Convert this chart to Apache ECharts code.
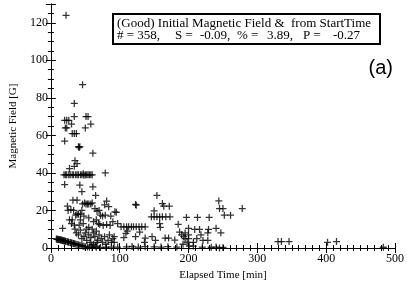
<!DOCTYPE html>
<html><head><meta charset="utf-8">
<script src="https://cdn.jsdelivr.net/npm/echarts@6/dist/echarts.min.js"></script>
<style>html,body{margin:0;padding:0;background:#fff}#c{width:407px;height:286px}</style>
</head><body><div id="c"></div>
<script>
// Elapsed time [min]
const elapsedTime = [
22,46,34,34,51,54,20,23,26,21,23,30,50,58,31,34,37,
20,40,41,42,61,38,35,34,27,79,
19,21,23,26,28,31,33,36,38,40,43,45,47,48,50,52,54,56,58,60,
20,42,61,45,65,32,38,46,49,51,53,55,58,60,81,78,24,29,64,67,36,38,40,43,72,75,79,31,43,93,34,41,17,71,76,81,86,43,55,58,
47,50,52,60,62,64,66,68,70,73,75,78,80,83,85,88,90,57,59,62,65,67,52,48,45,40,37,35,30,27,25,33,45,48,55,62,66,69,55,70,84,87,90,
8,9,10,11,12,13,14,15,16,17,18,19,20,21,22,24,25,26,28,29,30,32,33,34,36,38,40,42,44,46,48,50,53,56,60,66,72,80,88,
95,97,102,106,110,113,117,120,124,128,132,137,123,124,154,162,164,172,150,146,150,154,158,162,167,173,158,159,185,187,190,193,200,109,111,106,92,92,123,129,137,136,147,152,166,171,180,97,110,118,127,137,150,160,170,183,195,198,200,
244,245,250,278,252,261,197,213,230,209,216,229,240,247,228,192,195,200,207,212,218,221,228,201,207,233,245,250,240,220,
330,335,346,402,415,483
];
// Magnetic field [G]
const magneticField = [
124,87,77,70,70,70,68,68,68,64,64,66,64,66,61,61,61,
57,54,53.5,54,50.5,45,46.5,43.5,42.3,40,
39,39,39,39,39,39,39,39,39,39,39,39,39.5,38.8,39,39,39,39,39,39,
33.8,33.5,32.6,30,28,25.5,25.5,23.5,24,23.5,23.5,23.5,23.5,24,25,23,22.3,20.5,21,19.6,17.5,18,18,18,17.5,17,17.5,15,15,19.3,12.2,12.2,10.5,12.5,12,12.5,12,9.5,7,5.5,
13,8,10,10,8,6,9,4,7,5,3,6,2,4,7,3,5,3,1.5,2,1,3,4,6,5,7,8,10,13,15,20,20,20,17,16,14,15,13,11,20,22,17,14,
4.8,4.6,4.7,4.5,4.4,4.5,4.3,4.2,4.1,4.0,3.9,3.8,3.7,3.6,3.5,3.3,3.2,3.1,2.9,2.8,2.7,2.5,2.4,2.3,2.1,1.9,1.7,1.5,1.3,1.1,0.9,0.7,0.5,0.4,0.3,0.4,0.3,0.4,0.5,
19,13,11.3,11.3,11.3,11.3,11.3,11.3,11.3,11.3,11.3,11.3,23.2,22.8,28,23.7,22.3,22.3,19.8,16.6,16.6,16.6,16.6,16.6,16.6,16.6,13,11,12.6,8.5,7,6,10.5,7.8,9,5.5,3,6,6,8.5,5.3,3,6,4,5.3,5.3,4.2,0.5,0.6,0.8,0.5,0.7,0.6,0.5,0.7,0.5,8,3,5,
25.1,21,21,21,17.5,17.5,16.3,16.3,16.3,9.9,9.9,9.9,10.5,8.1,8.1,2,5,7,3,5,7,4,4,1,1,0.4,0,0.3,0.5,0.5,
3.4,3.4,3.4,3,3.4,0.4
];
const xTicks = [0,100,200,300,400,500];
const yTicks = [0,20,40,60,80,100,120];
const titleLine = "(Good) Initial Magnetic Field &  from StartTime";
const statLabels = ["# = 358,", "S =", "-0.09,", "% =", "3.89,", "P =", "-0.27"];
const panelLabel = "(a)";

const points = elapsedTime.map((t, i) => [t, magneticField[i]]);
const serif = "Liberation Serif";
const plus = 'path://M-0.9,-5H0.9V-0.9H5V0.9H0.9V5H-0.9V0.9H-5V-0.9H-0.9Z';

const axCommon = {
  axisLine: {show: true, lineStyle: {color: '#000', width: 1}},
  axisTick: {show: true, inside: true, length: 5, lineStyle: {color: '#000'}},
  splitLine: {show: false},
};
const chart = echarts.init(document.getElementById('c'));
const statX = [117, 175, 200, 237, 267, 303, 333];
chart.setOption({
  animation: false,
  grid: {left: 47, right: 9, top: 4, bottom: 38},
  xAxis: [
    Object.assign({type: 'value', min: 0, max: 500, interval: 100, position: 'bottom',
      axisLabel: {color: '#000', fontFamily: serif, fontSize: 12, margin: 5, formatter: v => xTicks.includes(v) ? String(v) : ''},
      name: 'Elapsed Time [min]', nameLocation: 'middle', nameGap: 22,
      nameTextStyle: {color: '#000', fontFamily: serif, fontSize: 11}}, axCommon,
      {minorTick: {show: true, splitNumber: 10, length: 3, lineStyle: {color: '#000'}}}),
    Object.assign({type: 'value', min: 0, max: 500, interval: 100, position: 'top'}, axCommon,
      {axisLabel: {show: false}, minorTick: {show: true, splitNumber: 10, length: 3, lineStyle: {color: '#000'}}})
  ],
  yAxis: [
    Object.assign({type: 'value', min: 0, max: 130, interval: 20, position: 'left',
      axisLabel: {color: '#000', fontFamily: serif, fontSize: 12, margin: 3, formatter: v => yTicks.includes(v) ? String(v) : ''},
      name: 'Magnetic Field [G]', nameLocation: 'middle', nameGap: 30,
      nameTextStyle: {color: '#000', fontFamily: serif, fontSize: 11}}, axCommon,
      {minorTick: {show: true, splitNumber: 4, length: 3, lineStyle: {color: '#000'}}}),
    Object.assign({type: 'value', min: 0, max: 130, interval: 20, position: 'right'}, axCommon,
      {axisLabel: {show: false}, minorTick: {show: true, splitNumber: 4, length: 3, lineStyle: {color: '#000'}}})
  ],
  series: [{
    type: 'scatter', xAxisIndex: 0, yAxisIndex: 0, data: points,
    symbol: plus, symbolSize: 7, itemStyle: {color: '#000'}, silent: true
  }],
  graphic: [
    {type: 'rect', shape: {x: 113, y: 14, width: 267, height: 30}, style: {fill: '#fff', stroke: '#000', lineWidth: 2}, z: 100},
    {type: 'text', x: 117, y: 24, style: {text: titleLine, font: '13px "Liberation Serif"', fill: '#000', textVerticalAlign: 'middle'}, z: 101},
    ...statLabels.map((s, i) => ({type: 'text', x: statX[i], y: 36, style: {text: s, font: '13px "Liberation Serif"', fill: '#000', textVerticalAlign: 'middle'}, z: 101})),
    {type: 'text', x: 393, y: 68, style: {text: panelLabel, font: '20px "Liberation Sans"', fill: '#000', textAlign: 'right', textVerticalAlign: 'middle'}, z: 101}
  ]
});
</script></body></html>
